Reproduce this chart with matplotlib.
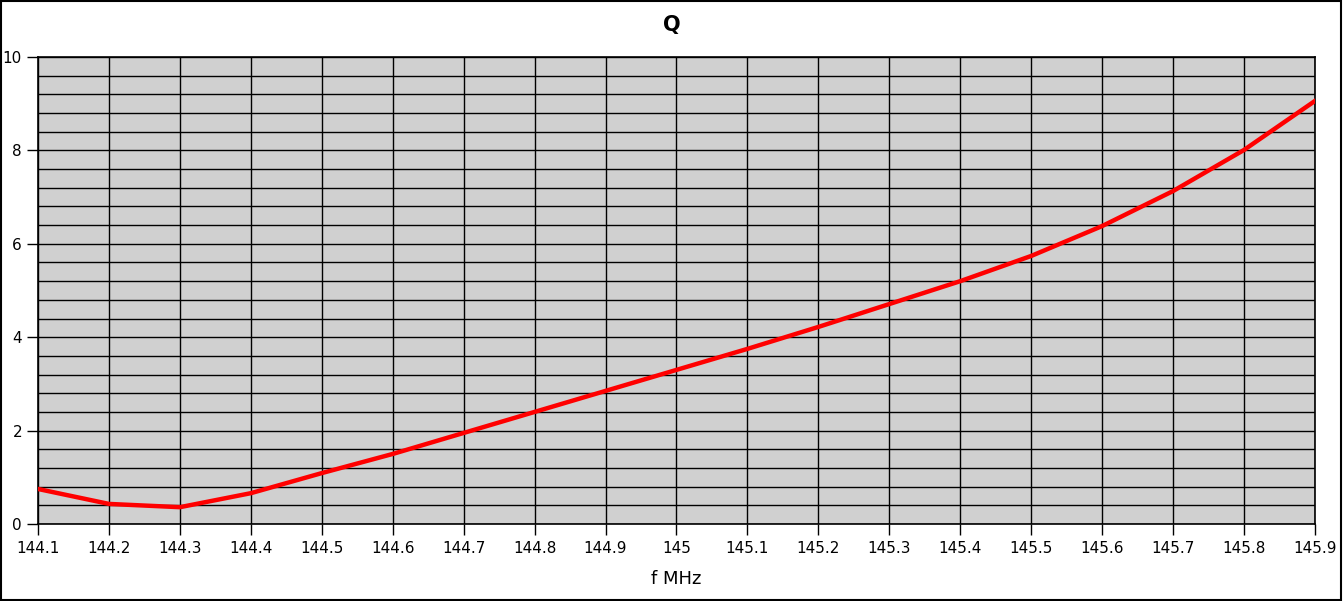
import matplotlib
matplotlib.use("Agg")
import matplotlib.pyplot as plt
import numpy as np

# frequency points (MHz) and Q
freq = [144.1, 144.2, 144.3, 144.4, 144.5, 144.6, 144.7, 144.8, 144.9, 145.0,
        145.1, 145.2, 145.3, 145.4, 145.5, 145.6, 145.7, 145.8, 145.9]
q = [0.75, 0.43, 0.36, 0.66, 1.09, 1.50, 1.95, 2.40, 2.85, 3.30,
     3.75, 4.22, 4.71, 5.20, 5.74, 6.38, 7.13, 8.01, 9.06]
xtick_labels = ["144.1", "144.2", "144.3", "144.4", "144.5", "144.6", "144.7", "144.8", "144.9",
                "145", "145.1", "145.2", "145.3", "145.4", "145.5", "145.6", "145.7", "145.8", "145.9"]

plt.rcParams['font.family'] = ['DejaVu Sans']
fig = plt.figure(figsize=(13.43, 6.01), dpi=100)
ax = fig.add_axes([38 / 1343, 1 - 524 / 601, (1315 - 38) / 1343, (524 - 57) / 601])
ax.set_facecolor("#d0d0d0")

ax.plot(freq, q, color="#ff0000", lw=3.2, solid_joinstyle="round", zorder=3)

ax.set_xlim(144.1, 145.9)
ax.set_ylim(0, 10)
ax.set_xticks(freq)
ax.set_xticklabels(xtick_labels)
ax.set_yticks([0, 2, 4, 6, 8, 10])
ax.set_yticks(np.arange(0, 10.01, 0.4), minor=True)
ax.tick_params(axis="y", which="minor", length=0)
ax.tick_params(axis="both", which="major", direction="out", length=8, width=1,
               labelsize=11, color="black")
ax.tick_params(axis="x", pad=4)
ax.grid(True, which="both", axis="y", color="black", lw=1)
ax.grid(True, which="major", axis="x", color="black", lw=1)
ax.set_axisbelow(True)
for s in ax.spines.values():
    s.set_color("black")
    s.set_linewidth(1.2)

ax.set_xlabel("f MHz", fontsize=13, labelpad=10)
fig.text(0.5, 1 - 25 / 601, "Q", ha="center", va="center", fontsize=15, fontweight="bold")

# outer frame
fig.patches.append(plt.Rectangle((0.0005, 0.001), 0.998, 0.997, transform=fig.transFigure,
                                 fill=False, edgecolor="black", lw=1.5))

fig.savefig("out.png", dpi=100)
